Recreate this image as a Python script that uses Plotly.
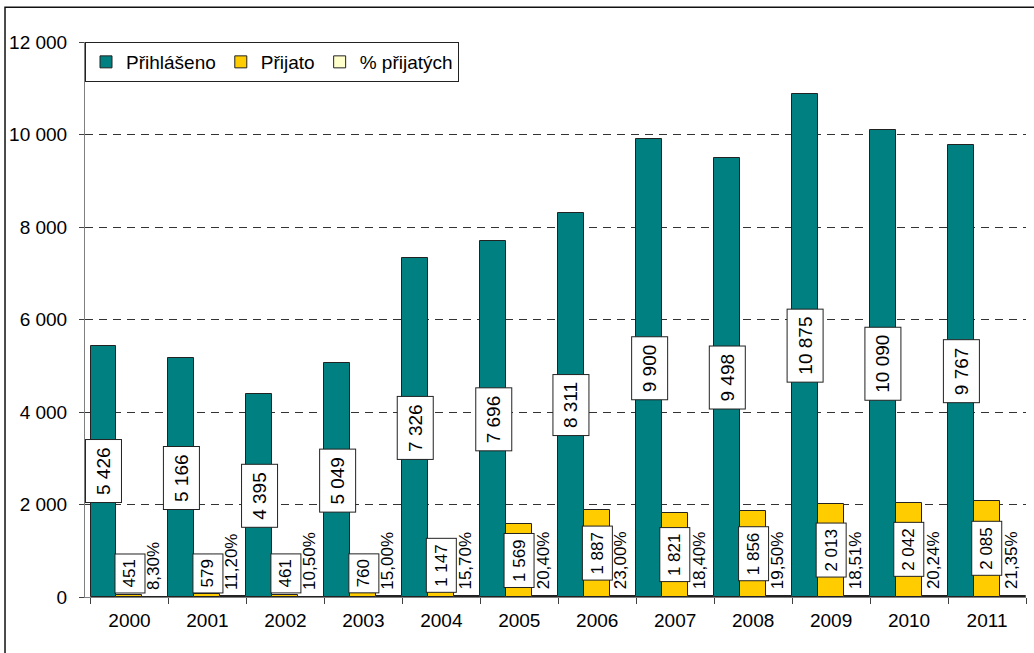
import plotly.graph_objects as go

# ---- data ----
years = ["2000", "2001", "2002", "2003", "2004", "2005",
         "2006", "2007", "2008", "2009", "2010", "2011"]
prihlaseno = [5426, 5166, 4395, 5049, 7326, 7696, 8311, 9900, 9498, 10875, 10090, 9767]
# heights of the yellow bars as drawn (2000-2004 drawn nearly flat in the source)
prijato_bar = [45, 58, 46, 76, 115, 1569, 1887, 1821, 1856, 2013, 2042, 2085]
# values printed in the yellow labels
prijato_label = [451, 579, 461, 760, 1147, 1569, 1887, 1821, 1856, 2013, 2042, 2085]
pct_prijatych = [8.30, 11.20, 10.50, 15.00, 15.70, 20.40, 23.00, 18.40, 19.50, 18.51, 20.24, 21.35]
y_ticks = [0, 2000, 4000, 6000, 8000, 10000, 12000]
series_names = ["Přihlášeno", "Přijato", "% přijatých"]

# ---- style ----
FONT = "Liberation Sans, Arial, sans-serif"
W, H = 1034, 653
M_L, M_R, M_T, M_B = 85, 8, 42, 56
Y_MAX = 12000
PX_PER_UNIT = (H - M_T - M_B) / Y_MAX
TEAL, GOLD, CREAM = "#008080", "#FFCC00", "#FFFFCC"
OUTLINE = "#222222"


def fmt_int(v):
    return f"{v:,}".replace(",", " ")


def fmt_pct(v):
    return f"{v:.2f}".replace(".", ",") + "%"


fig = go.Figure()
fig.add_trace(go.Bar(name=series_names[0], x=years, y=prihlaseno,
                     marker=dict(color=TEAL, line=dict(color=OUTLINE, width=1))))
fig.add_trace(go.Bar(name=series_names[1], x=years, y=prijato_bar,
                     marker=dict(color=GOLD, line=dict(color=OUTLINE, width=1))))
fig.add_trace(go.Bar(name=series_names[2], x=years, y=pct_prijatych,
                     marker=dict(color=CREAM, line=dict(color=OUTLINE, width=1))))

annotations = []
off = 1.0 / 3.0
for i, y in enumerate(years):
    # teal labels, centred on the bar
    annotations.append(dict(
        x=i - off, y=prihlaseno[i] / 2, xref="x", yref="y",
        text=fmt_int(prihlaseno[i]), textangle=-90, showarrow=False,
        font=dict(family=FONT, size=19, color="black"),
        bgcolor="white", bordercolor=OUTLINE, borderwidth=1, borderpad=7,
        xanchor="center", yanchor="middle"))
    # yellow labels: centred, but kept inside the plot for flat bars
    half_box_px = 27
    if prijato_bar[i] / 2 * PX_PER_UNIT < half_box_px + 4:
        annotations.append(dict(
            x=i, y=0, xref="x", yref="y", yshift=4,
            text=fmt_int(prijato_label[i]), textangle=-90, showarrow=False,
            font=dict(family=FONT, size=17, color="black"),
            bgcolor="white", bordercolor=OUTLINE, borderwidth=1, borderpad=5,
            xanchor="center", yanchor="bottom"))
    else:
        annotations.append(dict(
            x=i, y=prijato_bar[i] / 2, xref="x", yref="y",
            text=fmt_int(prijato_label[i]), textangle=-90, showarrow=False,
            font=dict(family=FONT, size=17, color="black"),
            bgcolor="white", bordercolor=OUTLINE, borderwidth=1, borderpad=5,
            xanchor="center", yanchor="middle"))
    # percentage labels
    annotations.append(dict(
        x=i + off, y=pct_prijatych[i], xref="x", yref="y", yshift=5, xshift=-2,
        text=fmt_pct(pct_prijatych[i]), textangle=-90, showarrow=False,
        font=dict(family=FONT, size=17, color="black"),
        xanchor="center", yanchor="bottom"))

fig.update_layout(
    width=W, height=H,
    margin=dict(l=M_L, r=M_R, t=M_T, b=M_B),
    paper_bgcolor="white", plot_bgcolor="white",
    barmode="group", bargap=0, bargroupgap=0,
    font=dict(family=FONT, size=18, color="black"),
    separators=", ",
    showlegend=True,
    legend=dict(orientation="h", x=0, y=1, xanchor="left", yanchor="top",
                bgcolor="white", bordercolor=OUTLINE, borderwidth=1,
                font=dict(family=FONT, size=19, color="black"),
                itemwidth=30, tracegroupgap=0),
    annotations=annotations,
    shapes=[dict(type="rect", xref="paper", yref="paper",
                 x0=-0.085, x1=1.05, y0=-0.3, y1=1.0625,
                 line=dict(color="#111111", width=1.5), layer="below")],
    xaxis=dict(type="category", showgrid=False, showline=True, linecolor="#808080",
               linewidth=1, ticks="outside", tickson="boundaries", ticklen=6,
               tickcolor="#404040", tickfont=dict(family=FONT, size=19),
               ticklabelstandoff=6),
    yaxis=dict(range=[0, Y_MAX], tickvals=y_ticks, tickformat=",d",
               showgrid=True, gridcolor="#333333", griddash="8px,6px", gridwidth=1,
               zeroline=False, showline=True, linecolor="#808080", linewidth=1,
               ticks="outside", ticklen=5, tickcolor="#404040",
               tickfont=dict(family=FONT, size=19), ticklabelstandoff=8),
)

fig.write_html("out.html",
               config={"displayModeBar": False},
               post_script="document.body.style.margin='0';"
                           "document.body.style.overflow='hidden';")
